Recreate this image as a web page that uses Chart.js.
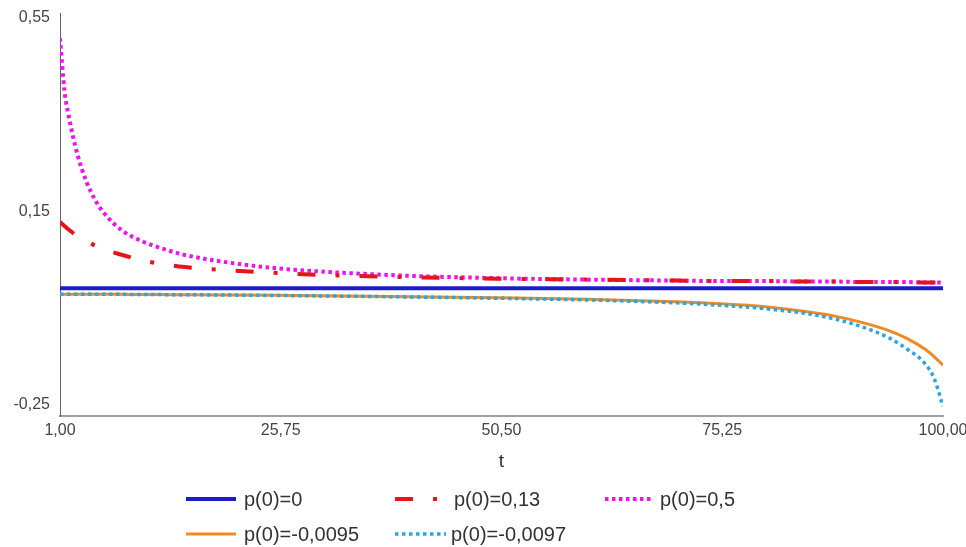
<!DOCTYPE html>
<html><head><meta charset="utf-8">
<script src="https://cdn.jsdelivr.net/npm/chart.js@4/dist/chart.umd.min.js"></script>
<style>
html,body{margin:0;padding:0;background:#fff;}
#wrap{position:relative;width:966px;height:547px;overflow:hidden;}
#c{position:absolute;left:0;top:0;}
.leg{position:absolute;font-family:"Liberation Sans",Arial,sans-serif;font-size:20px;color:#333;white-space:nowrap;line-height:22px;}
.legsw{position:absolute;}
</style></head><body>
<div id="wrap"><canvas id="c" width="966" height="547"></canvas><div id="legend"></div></div>
<script>
const tValues = [1, 1.5, 2, 3, 4, 5, 6, 8, 10, 12.5, 15, 20, 25, 30, 40, 50, 60, 70, 75, 80, 85, 88, 91, 94, 96, 98, 99, 100];
const seriesP0_0 = [-0.009, -0.009, -0.009, -0.009, -0.009, -0.009, -0.009, -0.009, -0.009, -0.009, -0.009, -0.009, -0.009, -0.009, -0.009, -0.009, -0.009, -0.009, -0.009, -0.009, -0.009, -0.009, -0.009, -0.009, -0.009, -0.009, -0.009, -0.009];
const seriesP0_013 = [0.128, 0.12, 0.112, 0.098, 0.088, 0.079, 0.071, 0.060, 0.050, 0.041, 0.035, 0.028, 0.023, 0.019, 0.014, 0.011, 0.009, 0.007, 0.006, 0.006, 0.005, 0.005, 0.004, 0.004, 0.004, 0.003, 0.003, 0.003];
const seriesP0_05 = [0.508, 0.40, 0.345, 0.265, 0.21, 0.172, 0.145, 0.11, 0.09, 0.073, 0.06, 0.044, 0.033, 0.026, 0.017, 0.012, 0.009, 0.007, 0.006, 0.006, 0.005, 0.005, 0.004, 0.004, 0.004, 0.003, 0.003, 0.003];
const seriesP0_m0095 = [-0.021, -0.021, -0.021, -0.021, -0.021, -0.0212, -0.0213, -0.0215, -0.0218, -0.022, -0.0222, -0.0228, -0.0235, -0.0243, -0.0262, -0.0285, -0.0315, -0.037, -0.041, -0.047, -0.058, -0.067, -0.080, -0.097, -0.113, -0.135, -0.150, -0.168];
const seriesP0_m0097 = [-0.021, -0.021, -0.021, -0.021, -0.021, -0.0212, -0.0213, -0.0215, -0.0218, -0.022, -0.0223, -0.0229, -0.0238, -0.0247, -0.0268, -0.0295, -0.033, -0.039, -0.044, -0.051, -0.062, -0.073, -0.089, -0.112, -0.135, -0.165, -0.195, -0.253];
const xTickValues = [1, 25.75, 50.5, 75.25, 100];
const yTickValues = [-0.25, 0.15, 0.55];
const seriesLabels = ['p(0)=0', 'p(0)=0,13', 'p(0)=0,5', 'p(0)=-0,0095', 'p(0)=-0,0097'];

const styles = [
  {color:'#1c1cc8', width:4, dash:[], order:5},
  {color:'#e8141c', width:4, dash:[18,20,4,20], order:1},
  {color:'#f010f0', width:4, dash:[3.5,3.5], order:2},
  {color:'#ef8a24', width:3, dash:[], order:4},
  {color:'#2aa6e0', width:3.5, dash:[3.5,3.5], order:3}
];
const allSeries = [seriesP0_0, seriesP0_013, seriesP0_05, seriesP0_m0095, seriesP0_m0097];

const fmt = v => v.toFixed(2).replace('.', ',');
const FONT = '"Liberation Sans", Arial, sans-serif';

const datasets = allSeries.map((s, i) => ({
  label: seriesLabels[i],
  data: tValues.map((t, j) => ({x: t, y: s[j]})),
  borderColor: styles[i].color,
  backgroundColor: styles[i].color,
  borderWidth: styles[i].width,
  borderDash: styles[i].dash,
  pointRadius: 0,
  fill: false,
  cubicInterpolationMode: 'monotone',
  order: styles[i].order
}));

new Chart(document.getElementById('c'), {
  type: 'line',
  data: {datasets},
  options: {
    responsive: false,
    animation: false,
    devicePixelRatio: 1,
    layout: {padding: {left: 0, right: 23, top: 13, bottom: 71}},
    plugins: {legend: {display: false}, tooltip: {enabled: false}},
    scales: {
      x: {
        type: 'linear', min: 1, max: 100,
        grid: {display: false, drawTicks: false},
        border: {display: true, color: '#a0a0a0', width: 2},
        ticks: {color: '#444', font: {family: FONT, size: 16}, padding: 5, maxRotation: 0, autoSkip: false, callback: v => fmt(v)},
        afterBuildTicks: s => { s.ticks = xTickValues.map(v => ({value: v})); },
        afterFit: s => { s.height = 60; s.paddingLeft = 0; s.paddingRight = 0; },
        title: {display: true, text: 't', color: '#333', font: {family: FONT, size: 19}, padding: {top: 4, bottom: 3}}
      },
      y: {
        type: 'linear', min: -0.273, max: 0.5603,
        grid: {display: false, drawTicks: false},
        border: {display: true, color: '#666', width: 1},
        ticks: {color: '#444', font: {family: FONT, size: 16}, padding: 10, callback: v => fmt(v)},
        afterBuildTicks: s => { s.ticks = yTickValues.map(v => ({value: v})); },
        afterFit: s => { s.width = 60; s.paddingTop = 0; s.paddingBottom = 0; }
      }
    }
  }
});

// HTML legend
const legendPos = [
  {x:186, y:499, sw:50, tx:244},
  {x:395, y:499, sw:46, tx:454},
  {x:605, y:499, sw:46, tx:660},
  {x:186, y:534, sw:50, tx:244},
  {x:395, y:534, sw:51, tx:451}
];
const legend = document.getElementById('legend');
seriesLabels.forEach((lab, i) => {
  const p = legendPos[i], st = styles[i];
  const ns = 'http://www.w3.org/2000/svg';
  const svg = document.createElementNS(ns, 'svg');
  svg.setAttribute('class', 'legsw');
  svg.setAttribute('width', p.sw);
  svg.setAttribute('height', 10);
  svg.style.left = p.x + 'px';
  svg.style.top = (p.y - 5) + 'px';
  const ln = document.createElementNS(ns, 'line');
  ln.setAttribute('x1', 0); ln.setAttribute('x2', p.sw);
  ln.setAttribute('y1', 5); ln.setAttribute('y2', 5);
  ln.setAttribute('stroke', st.color);
  ln.setAttribute('stroke-width', st.width);
  if (st.dash.length) ln.setAttribute('stroke-dasharray', st.dash.join(','));
  svg.appendChild(ln);
  legend.appendChild(svg);
  const d = document.createElement('div');
  d.className = 'leg';
  d.textContent = lab;
  d.style.left = p.tx + 'px';
  d.style.top = (p.y - 11) + 'px';
  legend.appendChild(d);
});
</script>
</body></html>
